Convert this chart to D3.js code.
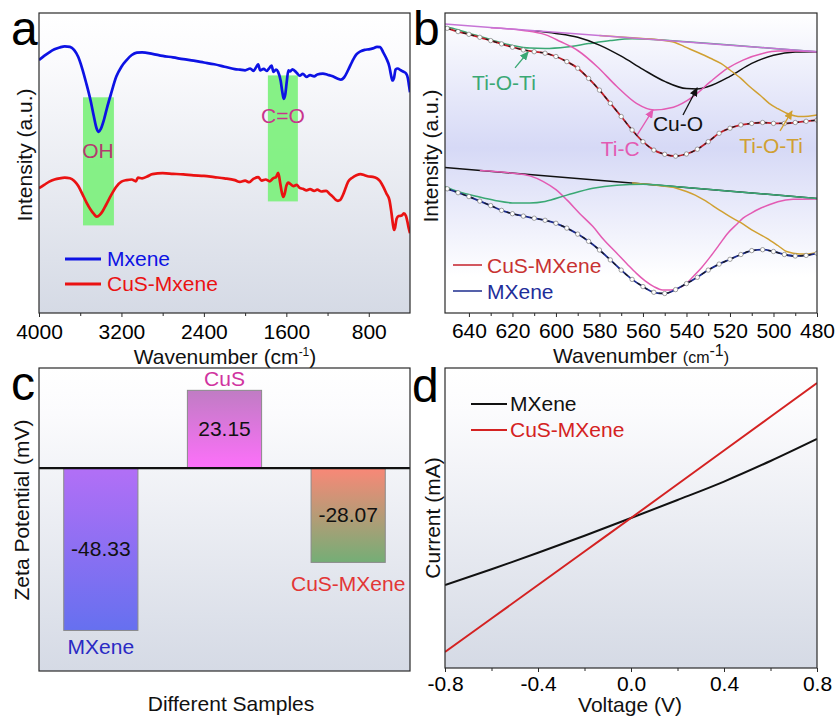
<!DOCTYPE html>
<html>
<head>
<meta charset="utf-8">
<script src="https://cdn.jsdelivr.net/npm/d3@7"></script>
<style>
  body { margin: 0; background: #fff; }
  text { font-family: "Liberation Sans", Arial, Helvetica, sans-serif; }
</style>
</head>
<body>
<script>
// ---------- panel a : FTIR (wavenumber, intensity a.u.) ----------
var mxeneFTIR = [[4000,84.4],[3950,85.8],[3900,87.0],[3850,88.0],[3800,88.6],[3750,89.0],[3700,88.8],[3660,87.8],[3620,85.5],[3580,81.5],[3540,76.5],[3500,71.0],[3470,66.0],[3440,61.5],[3420,60.5],[3400,61.5],[3370,64.5],[3340,68.5],[3300,73.3],[3250,78.9],[3200,82.2],[3150,84.4],[3100,86.1],[3050,86.9],[3000,87.0],[2900,86.5],[2800,85.8],[2700,85.3],[2600,84.7],[2500,84.2],[2400,83.6],[2300,83.0],[2200,82.2],[2100,81.4],[2050,81.2],[2000,81.0],[1950,81.6],[1920,80.8],[1890,82.2],[1873,83.0],[1855,81.0],[1820,81.5],[1790,80.8],[1760,82.0],[1743,82.6],[1725,80.5],[1700,81.2],[1680,80.5],[1655,77.5],[1640,74.0],[1625,71.5],[1610,73.0],[1595,77.5],[1580,81.0],[1565,80.6],[1540,81.3],[1500,80.2],[1470,79.2],[1440,79.8],[1404,78.8],[1370,79.4],[1330,79.0],[1300,79.6],[1245,79.9],[1200,79.5],[1150,79.0],[1100,78.2],[1070,77.9],[1040,78.6],[1000,81.1],[960,84.0],[920,86.3],[880,87.3],[840,87.8],[800,88.0],[760,88.3],[720,88.8],[690,88.7],[660,87.0],[630,85.0],[600,82.2],[585,79.5],[570,77.6],[555,78.5],[540,81.3],[520,81.6],[490,81.0],[460,80.5],[440,80.0],[420,78.3],[410,76.0],[400,73.7]];
var cusMxeneFTIR = [[4000,41.7],[3950,42.8],[3900,43.9],[3850,44.6],[3800,45.0],[3750,45.2],[3700,45.0],[3660,44.2],[3620,42.5],[3580,39.8],[3540,37.0],[3500,34.6],[3470,33.2],[3440,32.2],[3410,32.8],[3380,34.2],[3350,36.1],[3300,39.4],[3250,42.2],[3200,43.9],[3150,44.4],[3100,44.6],[3060,44.0],[3040,45.2],[3000,45.0],[2950,45.6],[2900,46.4],[2800,46.7],[2700,46.5],[2600,46.3],[2500,46.0],[2400,45.8],[2300,45.4],[2200,45.0],[2100,44.4],[2050,43.8],[2000,44.2],[1960,43.7],[1920,44.8],[1873,45.4],[1840,44.2],[1800,44.6],[1760,44.0],[1728,45.0],[1700,45.4],[1679,46.8],[1660,43.5],[1645,40.5],[1630,38.8],[1615,40.0],[1600,42.5],[1580,43.6],[1565,43.2],[1530,42.4],[1500,42.8],[1470,41.8],[1440,41.5],[1404,41.0],[1370,41.4],[1330,40.8],[1300,41.2],[1260,40.6],[1214,40.8],[1180,39.8],[1150,38.9],[1120,37.8],[1100,37.5],[1080,37.7],[1050,39.5],[1020,42.2],[1000,43.9],[960,45.2],[920,46.0],[880,46.4],[840,46.0],[800,45.6],[760,45.5],[720,45.0],[690,44.0],[660,42.2],[630,40.0],[600,37.8],[580,33.5],[565,29.5],[555,27.8],[545,28.5],[530,31.5],[510,32.4],[480,32.6],[460,33.3],[440,32.5],[425,30.5],[410,28.0],[400,26.7]];
var ohBand = [3573, 3273, 29.3, 72];     // wavenumber from, to, intensity low, high
var coBand = [1779, 1488, 37.3, 79.3];
var ftirTicks = [4000, 3200, 2400, 1600, 800];
var ftirMinor = [3600, 2800, 2000, 1200];

// ---------- panel b : deconvolution ----------
var cusTopBase = [[651,96.4],[480,87.2]];
var cusTopTiOTi1 = [[651,95.6],[645,94.5],[640,93.4],[630,91.2],[620,89.3],[612,88.4],[605,88.3],[595,88.8],[585,89.9],[575,90.9],[565,91.5],[555,91.3],[540,90.5],[520,89.4],[500,88.3],[480,87.2]];
var cusTopCuO = [[610,94.2],[600,93.3],[590,92.0],[580,89.4],[570,85.7],[560,81.3],[550,77.3],[540,74.9],[535,74.8],[530,75.6],[520,79.0],[510,83.3],[500,86.0],[490,87.1],[480,87.2]];
var cusTopTiC = [[630,95.2],[615,94.3],[605,92.9],[598,90.6],[590,87.6],[581,82.2],[572,75.6],[563,70.0],[555,67.8],[546,68.7],[537,72.2],[529,77.2],[521,81.7],[514,84.4],[505,86.6],[498,87.4],[490,87.4],[480,87.2]];
var cusTopTiOTi2 = [[580,92.6],[567,91.9],[552,91.1],[545,90.2],[541,88.9],[535,87.0],[529,85.0],[524,83.2],[520,81.1],[515,78.3],[511,75.6],[506,72.6],[502,70.0],[498,68.2],[494,66.7],[490,65.8],[488,65.6],[484,65.7],[480,66.1]];
var cusTopSum = [[650,95.0],[645,93.9],[640,93.0],[635,92.0],[630,90.9],[625,89.8],[620,88.7],[615,87.8],[610,87.2],[605,86.7],[600,85.6],[595,83.9],[590,81.7],[585,78.3],[580,74.4],[575,70.0],[570,65.6],[565,61.1],[560,57.2],[555,54.4],[550,53.0],[545,52.4],[540,53.1],[535,54.7],[530,57.2],[525,60.0],[520,61.7],[515,62.8],[510,63.3],[505,63.6],[500,63.3],[495,63.3],[490,63.6],[485,64.0],[480,64.4]];

var mxBotBase = [[651,48.6],[480,38.3]];
var mxBotTiOTi1 = [[651,42.2],[645,40.6],[636,38.9],[628,37.6],[620,36.8],[612,36.8],[605,37.3],[595,39.4],[583,41.7],[572,42.7],[560,43.0],[540,41.9],[520,40.7],[500,39.5],[480,38.3]];
var mxBotTiC = [[635,47.6],[621,46.8],[612,45.8],[606,44.0],[600,41.2],[595,37.8],[589,33.2],[583,28.9],[578,24.5],[572,20.0],[567,16.2],[563,13.3],[559,10.8],[555,8.9],[551,7.8],[547,7.8],[544,8.3],[540,10.0],[537,12.2],[533,15.3],[529,18.9],[525,22.8],[521,26.7],[517,29.6],[514,31.7],[510,33.5],[506,35.0],[502,36.2],[498,37.2],[491,38.0],[480,38.1]];
var mxBotTiOTi2 = [[565,43.4],[553,42.6],[545,41.8],[540,40.6],[536,39.4],[532,37.8],[525,34.5],[520,32.2],[515,30.2],[510,27.8],[503,25.0],[498,22.6],[494,20.6],[488,19.8],[484,19.8],[480,20.3]];
var mxBotSum = [[650,41.5],[645,40.2],[640,38.9],[635,37.4],[630,35.9],[625,34.3],[620,33.2],[615,32.4],[610,31.7],[605,31.0],[600,30.0],[595,28.4],[590,26.4],[585,24.0],[580,21.1],[575,17.8],[570,14.4],[565,11.3],[560,8.9],[555,7.0],[550,6.6],[545,7.9],[540,9.9],[535,12.0],[530,14.4],[525,16.4],[520,18.0],[515,19.6],[510,20.9],[505,21.2],[500,20.6],[495,19.6],[490,19.1],[485,19.3],[480,20.0]];
var decoTicks = [640, 620, 600, 580, 560, 540, 520, 500, 480];
var decoMinor = [630, 610, 590, 570, 550, 530, 510, 490];

// ---------- panel c : zeta potential ----------
var samples = ["MXene", "CuS", "CuS-MXene"];
var zeta = [-48.33, 23.15, -28.07];

// ---------- panel d : I-V ----------
var voltage = [-0.8, -0.6, -0.4, -0.2, 0, 0.2, 0.4, 0.6, 0.8];
var mxeneI = [-0.447, -0.342, -0.232, -0.118, 0, 0.12, 0.243, 0.38, 0.527];
var cusMxeneI = [-0.893, -0.67, -0.447, -0.223, 0, 0.225, 0.45, 0.675, 0.9];
var voltTicks = [-0.8, -0.4, 0, 0.4, 0.8];
var voltMinor = [-0.6, -0.2, 0.2, 0.6];

var svg = d3.select("body").append("svg")
    .attr("width", 839)
    .attr("height", 721);
var defs = svg.append("defs");

function vgrad(id, stops) {
    var g = defs.append("linearGradient").attr("id", id)
        .attr("x1", 0).attr("y1", 0).attr("x2", 0).attr("y2", 1);
    stops.forEach(function(s) { g.append("stop").attr("offset", s[0]).attr("stop-color", s[1]); });
}
vgrad("bgGray", [[0, "#ffffff"], [0.15, "#fbfbfd"], [1, "#d5dae5"]]);
vgrad("bgLav", [[0, "#ffffff"], [0.45, "#d6d9f6"], [0.88, "#ffffff"], [1, "#ffffff"]]);
vgrad("barMx", [[0, "#b26ff6"], [1, "#6670ef"]]);
vgrad("barCuS", [[0, "#c07cc4"], [1, "#fd70fa"]]);
vgrad("barCM", [[0, "#f98877"], [1, "#74ae76"]]);

function panel(id, x0, x1, y0, y1, fill) {
    defs.append("clipPath").attr("id", "clip" + id)
        .append("rect").attr("x", x0).attr("y", y0).attr("width", x1 - x0).attr("height", y1 - y0);
    svg.append("rect").attr("x", x0).attr("y", y0).attr("width", x1 - x0).attr("height", y1 - y0)
        .attr("fill", "url(#" + fill + ")");
    var g = svg.append("g");
    var inner = g.append("g").attr("clip-path", "url(#clip" + id + ")");
    return {g: g, inner: inner, frame: function() {
        g.append("rect").attr("x", x0).attr("y", y0).attr("width", x1 - x0).attr("height", y1 - y0)
            .attr("fill", "none").attr("stroke", "#2a2a2a").attr("stroke-width", 1.2);
    }};
}

function bottomAxis(g, x, y0, major, minor, fmt, pad) {
    var m = g.append("g").attr("transform", "translate(0," + y0 + ")")
        .call(d3.axisBottom(x).tickValues(minor).tickSize(3).tickFormat(""));
    m.select(".domain").remove();
    var a = g.append("g").attr("transform", "translate(0," + y0 + ")")
        .call(d3.axisBottom(x).tickValues(major).tickSize(4).tickPadding(pad).tickFormat(fmt));
    a.select(".domain").remove();
    a.selectAll("text").attr("font-size", 21).attr("fill", "#000");
    g.selectAll(".tick line").attr("stroke", "#2a2a2a");
}

function ytitle(g, txt, x, y) {
    g.append("text").attr("transform", "translate(" + x + "," + y + ") rotate(-90)")
        .attr("text-anchor", "middle").attr("font-size", 21).attr("fill", "#111").text(txt);
}

function letter(txt, x, y) {
    svg.append("text").attr("x", x).attr("y", y).attr("font-size", 48).attr("fill", "#000").text(txt);
}

function wavTitle(g, x, y, small) {
    var t = g.append("text").attr("x", x).attr("y", y).attr("text-anchor", "middle")
        .attr("font-size", 21).attr("fill", "#111");
    t.append("tspan").text("Wavenumber ");
    t.append("tspan").attr("font-size", small ? 16 : 21).text("(cm");
    t.append("tspan").attr("font-size", small ? 16 : 12).attr("dy", small ? -7 : -8).text("-1");
    t.append("tspan").attr("font-size", small ? 16 : 21).attr("dy", small ? 7 : 8).text(")");
}

// ================= panel a =================
var pa = panel("a", 39, 410, 13, 313, "bgGray");
var xA = d3.scaleLinear().domain([4000, 400]).range([39, 410]);
var yA = d3.scaleLinear().domain([0, 100]).range([313.3, 13.3]);

[ohBand, coBand].forEach(function(b) {
    pa.inner.append("rect")
        .attr("x", xA(b[0])).attr("width", xA(b[1]) - xA(b[0]))
        .attr("y", yA(b[3])).attr("height", yA(b[2]) - yA(b[3]))
        .attr("fill", "#7ff07f").attr("opacity", 0.95);
});

var lineA = d3.line().x(function(d) { return xA(d[0]); }).y(function(d) { return yA(d[1]); })
    .curve(d3.curveMonotoneX);
pa.inner.append("path").datum(mxeneFTIR).attr("d", lineA)
    .attr("fill", "none").attr("stroke", "#0d12e4").attr("stroke-width", 2.7).attr("stroke-linejoin", "round");
pa.inner.append("path").datum(cusMxeneFTIR).attr("d", lineA)
    .attr("fill", "none").attr("stroke", "#ea1212").attr("stroke-width", 2.7).attr("stroke-linejoin", "round");

pa.g.append("text").attr("x", xA(3428)).attr("y", yA(51.7)).attr("text-anchor", "middle")
    .attr("font-size", 21).attr("fill", "#b43a6e").text("OH");
pa.g.append("text").attr("x", xA(1633)).attr("y", yA(63.3)).attr("text-anchor", "middle")
    .attr("font-size", 21).attr("fill", "#c8348c").text("C=O");

var legA = [["Mxene", "#0d12e4", 259], ["CuS-Mxene", "#ea1212", 284]];
legA.forEach(function(l) {
    pa.g.append("line").attr("x1", 65).attr("x2", 101).attr("y1", l[2]).attr("y2", l[2])
        .attr("stroke", l[1]).attr("stroke-width", 3);
    pa.g.append("text").attr("x", 107).attr("y", l[2] + 7).attr("font-size", 21).attr("fill", l[1]).text(l[0]);
});
pa.frame();
bottomAxis(pa.g, xA, 313, ftirTicks, ftirMinor, d3.format("d"), 7);
wavTitle(pa.g, 225, 364, false);
ytitle(pa.g, "Intensity (a.u.)", 32, 155);
letter("a", 11, 45);

// ================= panel b =================
var pb = panel("b", 445, 817, 13, 313, "bgLav");
var xB = d3.scaleLinear().domain([651, 480]).range([445, 817]);
var yB = d3.scaleLinear().domain([0, 100]).range([313.3, 13.3]);
var lineB = d3.line().x(function(d) { return xB(d[0]); }).y(function(d) { return yB(d[1]); })
    .curve(d3.curveMonotoneX);

function comp(data, color, w) {
    pb.inner.append("path").datum(data).attr("d", lineB)
        .attr("fill", "none").attr("stroke", color).attr("stroke-width", w || 1.5);
}
function envelope(data, color) {
    pb.inner.append("path").datum(data).attr("d", lineB)
        .attr("fill", "none").attr("stroke", color).attr("stroke-width", 1.8);
    pb.inner.append("path").datum(data).attr("d", lineB)
        .attr("fill", "none").attr("stroke", "#1a1a1a").attr("stroke-width", 1.2)
        .attr("stroke-dasharray", "4,4");
    pb.inner.selectAll(null).data(data).enter().append("circle")
        .attr("cx", function(d) { return xB(d[0]); })
        .attr("cy", function(d) { return yB(d[1]); })
        .attr("r", 2.2).attr("fill", "#fff").attr("stroke", "#7a7a7a").attr("stroke-width", 0.7);
}

var cGreen = "#3aa874", cPink = "#e35bb3", cGold = "#d0a032", cPurple = "#c674d6";

// lower set (MXene)
comp(mxBotBase, "#111");
comp(mxBotTiC, cPink);
comp(mxBotTiOTi2, cGold);
comp(mxBotTiOTi1, cGreen);
envelope(mxBotSum, "#1c2c8e");

// upper set (CuS-MXene)
comp(cusTopTiOTi1, cGreen);
comp(cusTopCuO, "#111");
comp(cusTopTiC, cPink);
comp(cusTopTiOTi2, cGold);
comp(cusTopBase, cPurple);
envelope(cusTopSum, "#c4202a");

// annotations: text position and arrow given in data coordinates
var notesB = [
    {t: "Ti-O-Ti", c: cGreen, at: [623.9, 74.4], from: [618.8, 81.8], to: [612.8, 87.1]},
    {t: "Cu-O", c: "#111", at: [543.9, 60.8], from: [541.6, 66.1], to: [535.1, 75.1]},
    {t: "Ti-C", c: cPink, at: [570.5, 52.4], from: [562.7, 59.4], to: [555.4, 67.8]},
    {t: "Ti-O-Ti", c: cGold, at: [501.1, 53.3], from: [497, 60.8], to: [491.5, 67.4]}
];
notesB.forEach(function(n, i) {
    defs.append("marker").attr("id", "arr" + i)
        .attr("markerUnits", "userSpaceOnUse").attr("markerWidth", 9).attr("markerHeight", 8)
        .attr("refX", 8).attr("refY", 4).attr("orient", "auto")
        .append("path").attr("d", "M0,0 L9,4 L0,8 Z").attr("fill", n.c);
    pb.g.append("line")
        .attr("x1", xB(n.from[0])).attr("y1", yB(n.from[1]))
        .attr("x2", xB(n.to[0])).attr("y2", yB(n.to[1]))
        .attr("stroke", n.c).attr("stroke-width", 1.3).attr("marker-end", "url(#arr" + i + ")");
    pb.g.append("text").attr("x", xB(n.at[0])).attr("y", yB(n.at[1])).attr("text-anchor", "middle")
        .attr("font-size", 21).attr("fill", n.c).text(n.t);
});

var legB = [["CuS-MXene", "#c4202a", "#c83232", 265], ["MXene", "#1c2c8e", "#1e2e9a", 291]];
legB.forEach(function(l) {
    pb.g.append("line").attr("x1", 453).attr("x2", 482).attr("y1", l[3]).attr("y2", l[3])
        .attr("stroke", l[1]).attr("stroke-width", 1.5);
    pb.g.append("text").attr("x", 487).attr("y", l[3] + 8).attr("font-size", 21).attr("fill", l[2]).text(l[0]);
});
pb.frame();
bottomAxis(pb.g, xB, 313, decoTicks, decoMinor, d3.format("d"), 6);
wavTitle(pb.g, 641, 363, true);
ytitle(pb.g, "Intensity (a.u.)", 438, 156);
letter("b", 413, 45);

// ================= panel c =================
var pc = panel("c", 39, 410, 368, 671, "bgGray");
var xC = d3.scaleBand().domain(samples).range([39, 410]).paddingInner(0.4).paddingOuter(0.2);
var yC = d3.scaleLinear().domain([-60.4, 29.8]).range([671, 368]);
var barFills = ["url(#barMx)", "url(#barCuS)", "url(#barCM)"];
var nameColors = ["#2a2ac4", "#d0339f", "#e23636"];

pc.inner.selectAll(".bar").data(zeta).enter().append("rect").attr("class", "bar")
    .attr("x", function(d, i) { return xC(samples[i]); })
    .attr("width", xC.bandwidth())
    .attr("y", function(d) { return Math.min(yC(0), yC(d)); })
    .attr("height", function(d) { return Math.abs(yC(d) - yC(0)); })
    .attr("fill", function(d, i) { return barFills[i]; })
    .attr("stroke", "#8a8a8a").attr("stroke-width", 1);

pc.g.selectAll(".val").data(zeta).enter().append("text").attr("class", "val")
    .attr("x", function(d, i) { return xC(samples[i]) + xC.bandwidth() / 2; })
    .attr("y", function(d) { return yC(d / 2) + 7; })
    .attr("text-anchor", "middle").attr("font-size", 21).attr("fill", "#111")
    .text(function(d) { return d.toFixed(2); });

pc.g.selectAll(".name").data(zeta).enter().append("text").attr("class", "name")
    .attr("x", function(d, i) { return xC(samples[i]) + xC.bandwidth() / 2; })
    .attr("y", function(d, i) { return d > 0 ? yC(d) - 4 : yC(d) + (i === 0 ? 24 : 29); })
    .attr("text-anchor", "middle").attr("font-size", 21)
    .attr("fill", function(d, i) { return nameColors[i]; })
    .text(function(d, i) { return samples[i]; });

pc.g.append("line").attr("x1", 39).attr("x2", 410).attr("y1", yC(0)).attr("y2", yC(0))
    .attr("stroke", "#111").attr("stroke-width", 2.4);
pc.frame();
pc.g.append("text").attr("x", 231).attr("y", 711).attr("text-anchor", "middle")
    .attr("font-size", 21).attr("fill", "#111").text("Different Samples");
ytitle(pc.g, "Zeta Potential (mV)", 29, 510);
letter("c", 11, 400);

// ================= panel d =================
var pd = panel("d", 445, 817, 368, 668, "bgGray");
var xD = d3.scaleLinear().domain([-0.8, 0.8]).range([445, 817]);
var yD = d3.scaleLinear().domain([-1, 1]).range([668, 368]);
var lineD = d3.line().x(function(d) { return xD(d[0]); }).y(function(d) { return yD(d[1]); })
    .curve(d3.curveMonotoneX);
pd.inner.append("path").datum(d3.zip(voltage, mxeneI)).attr("d", lineD)
    .attr("fill", "none").attr("stroke", "#111").attr("stroke-width", 2);
pd.inner.append("path").datum(d3.zip(voltage, cusMxeneI)).attr("d", lineD)
    .attr("fill", "none").attr("stroke", "#d42222").attr("stroke-width", 2);

var legD = [["MXene", "#111", "#111", 404], ["CuS-MXene", "#d42222", "#d42222", 430]];
legD.forEach(function(l) {
    pd.g.append("line").attr("x1", 471).attr("x2", 507).attr("y1", l[3]).attr("y2", l[3])
        .attr("stroke", l[1]).attr("stroke-width", 2);
    pd.g.append("text").attr("x", 510).attr("y", l[3] + 7).attr("font-size", 21).attr("fill", l[2]).text(l[0]);
});
pd.frame();
bottomAxis(pd.g, xD, 668, voltTicks, voltMinor, function(d) { return d.toFixed(1); }, 4);
pd.g.append("text").attr("x", 630).attr("y", 712).attr("text-anchor", "middle")
    .attr("font-size", 21).attr("fill", "#111").text("Voltage (V)");
ytitle(pd.g, "Current (mA)", 440, 518);
letter("d", 412, 402);
</script>
</body>
</html>
